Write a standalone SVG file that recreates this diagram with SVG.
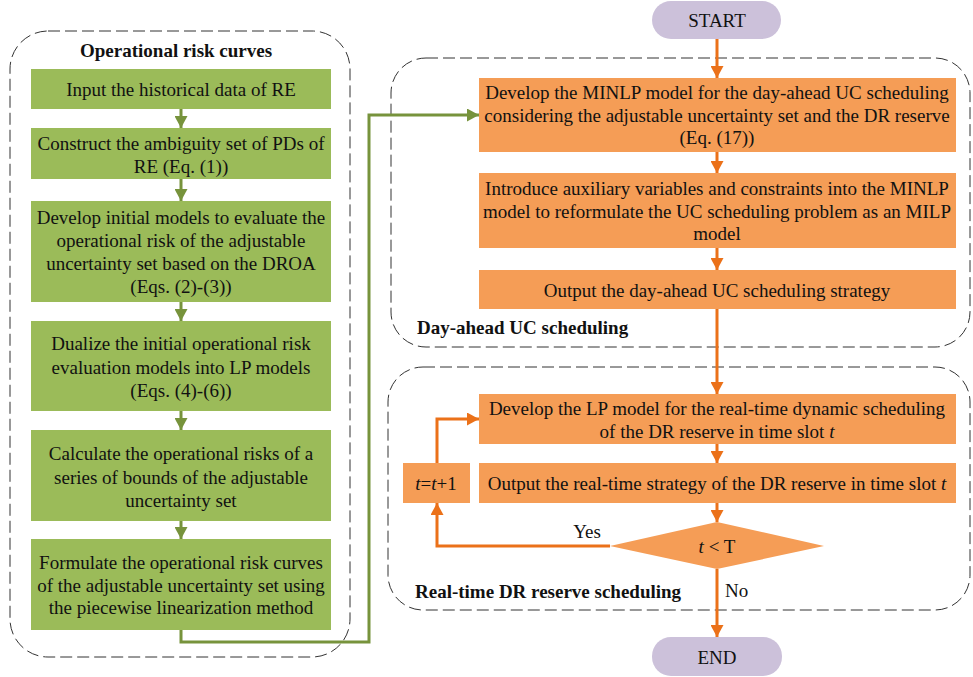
<svg xmlns="http://www.w3.org/2000/svg" width="973" height="677" viewBox="0 0 973 677">
<style>
text{font-family:"Liberation Serif","Times New Roman",serif;font-size:19px;fill:#111;text-anchor:middle}
.b{font-weight:bold;text-anchor:start}
.it{font-style:italic}
.cont{fill:none;stroke:#333;stroke-width:1;stroke-dasharray:12,5}
.g{fill:#9BBB59}
.o{fill:#F59D56}
.p{fill:#CCC1DA}
.lg{fill:none;stroke:#77933C;stroke-width:3}
.lo{fill:none;stroke:#EB7119;stroke-width:3}
</style>
<defs>
<marker id="ag" markerUnits="userSpaceOnUse" markerWidth="13" markerHeight="13" refX="12" refY="6.5" orient="auto"><path d="M0,0 L12,6.5 L0,13 z" fill="#77933C"/></marker>
<marker id="ao" markerUnits="userSpaceOnUse" markerWidth="13" markerHeight="13" refX="12" refY="6.5" orient="auto"><path d="M0,0 L12,6.5 L0,13 z" fill="#EB7119"/></marker>
</defs>

<g id="containers">
<rect class="cont" x="10" y="31" width="340" height="626" rx="38"/>
<rect class="cont" x="391" y="58" width="579" height="289" rx="35"/>
<rect class="cont" x="388" y="367" width="582" height="243" rx="35"/>
<text class="b" x="80" y="57">Operational risk curves</text>
<text class="b" x="417" y="334">Day-ahead UC scheduling</text>
<text class="b" x="415" y="598">Real-time DR reserve scheduling</text>
</g>

<g id="connectors">
<line class="lg" x1="181" y1="109" x2="181" y2="128" marker-end="url(#ag)"/>
<line class="lg" x1="181" y1="179" x2="181" y2="201" marker-end="url(#ag)"/>
<line class="lg" x1="181" y1="302" x2="181" y2="321" marker-end="url(#ag)"/>
<line class="lg" x1="181" y1="411" x2="181" y2="430" marker-end="url(#ag)"/>
<line class="lg" x1="181" y1="521" x2="181" y2="539" marker-end="url(#ag)"/>
<polyline class="lg" points="181,630 181,642 369,642 369,115 479,115" marker-end="url(#ag)"/>
<line class="lo" x1="717" y1="39" x2="717" y2="78" marker-end="url(#ao)"/>
<line class="lo" x1="717" y1="152" x2="717" y2="173" marker-end="url(#ao)"/>
<line class="lo" x1="717" y1="248" x2="717" y2="270" marker-end="url(#ao)"/>
<line class="lo" x1="717" y1="309" x2="717" y2="394" marker-end="url(#ao)"/>
<line class="lo" x1="717" y1="444" x2="717" y2="463" marker-end="url(#ao)"/>
<line class="lo" x1="717" y1="503" x2="717" y2="522" marker-end="url(#ao)"/>
<line class="lo" x1="717" y1="569" x2="717" y2="637" marker-end="url(#ao)"/>
<polyline class="lo" points="610,546 437,546 437,503" marker-end="url(#ao)"/>
<polyline class="lo" points="437,463 437,419 479,419" marker-end="url(#ao)"/>
<text x="587" y="538">Yes</text>
<text x="725" y="597" style="text-anchor:start">No</text>
</g>

<g id="g1"><rect class="g" x="31" y="69" width="300" height="40"/><text x="181" y="96">Input the historical data of RE</text></g>
<g id="g2"><rect class="g" x="31" y="128" width="300" height="51"/><text x="181" y="150">Construct the ambiguity set of PDs of</text><text x="181" y="173">RE (Eq. (1))</text></g>
<g id="g3"><rect class="g" x="31" y="201" width="300" height="101"/><text x="181" y="224">Develop initial models to evaluate the</text><text x="181" y="247">operational risk of the adjustable</text><text x="181" y="270">uncertainty set based on the DROA</text><text x="181" y="293">(Eqs. (2)-(3))</text></g>
<g id="g4"><rect class="g" x="31" y="321" width="300" height="90"/><text x="181" y="350">Dualize the initial operational risk</text><text x="181" y="374">evaluation models into LP models</text><text x="181" y="397">(Eqs. (4)-(6))</text></g>
<g id="g5"><rect class="g" x="31" y="430" width="300" height="91"/><text x="181" y="460">Calculate the operational risks of a</text><text x="181" y="484">series of bounds of the adjustable</text><text x="181" y="507">uncertainty set</text></g>
<g id="g6"><rect class="g" x="31" y="539" width="300" height="91"/><text x="181" y="569">Formulate the operational risk curves</text><text x="181" y="592">of the adjustable uncertainty set using</text><text x="181" y="614">the piecewise linearization method</text></g>

<g id="start"><rect class="p" x="652" y="1" width="129" height="38" rx="19"/><text x="717" y="27">START</text></g>
<g id="o1"><rect class="o" x="479" y="78" width="477" height="74"/><text x="717" y="99">Develop the MINLP model for the day-ahead UC scheduling</text><text x="717" y="122">considering the adjustable uncertainty set and the DR reserve</text><text x="717" y="144">(Eq. (17))</text></g>
<g id="o2"><rect class="o" x="479" y="173" width="477" height="75"/><text x="717" y="195">Introduce auxiliary variables and constraints into the MINLP</text><text x="717" y="218">model to reformulate the UC scheduling problem as an MILP</text><text x="717" y="240">model</text></g>
<g id="o3"><rect class="o" x="479" y="270" width="477" height="39"/><text x="717" y="297">Output the day-ahead UC scheduling strategy</text></g>
<g id="o4"><rect class="o" x="479" y="394" width="477" height="50"/><text x="717" y="415">Develop the LP model for the real-time dynamic scheduling</text><text x="717" y="438">of the DR reserve in time slot <tspan class="it">t</tspan></text></g>
<g id="o5"><rect class="o" x="479" y="463" width="477" height="40"/><text x="717" y="490">Output the real-time strategy of the DR reserve in time slot <tspan class="it">t</tspan></text></g>
<g id="inc"><rect class="o" x="403" y="463" width="67" height="40"/><text x="436" y="490"><tspan class="it">t</tspan>=<tspan class="it">t</tspan>+1</text></g>
<g id="dec"><polygon class="o" points="717,522 824,546 717,569 610,546"/><text x="717" y="553"><tspan class="it">t</tspan> &lt; T</text></g>
<g id="end"><rect class="p" x="652" y="637" width="130" height="39" rx="19"/><text x="717" y="664">END</text></g>
</svg>
